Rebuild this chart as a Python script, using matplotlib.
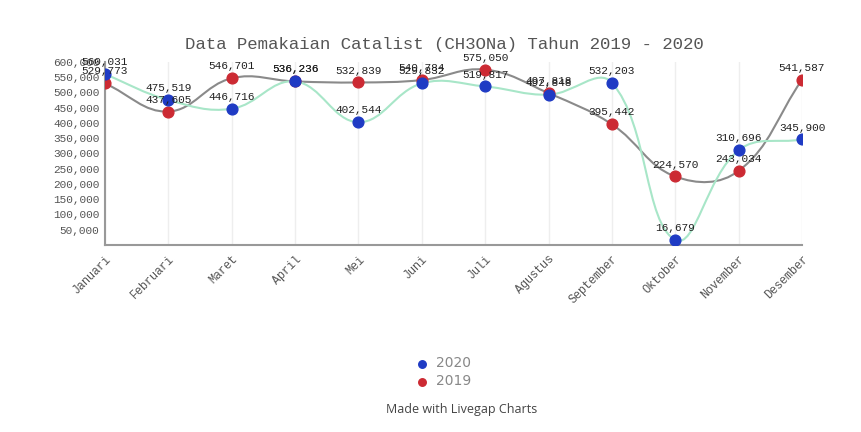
import numpy as np
import matplotlib
matplotlib.use("Agg")
import matplotlib.pyplot as plt
from matplotlib.path import Path
from matplotlib.patches import PathPatch

bulan = ["Januari", "Februari", "Maret", "April", "Mei", "Juni", "Juli",
         "Agustus", "September", "Oktober", "November", "Desember"]
data_2020 = [560031, 475519, 446716, 536236, 402544, 529832, 519817,
             492848, 532203, 16679, 310696, 345900]
data_2019 = [529773, 437605, 546701, 536236, 532839, 540784, 575050,
             497818, 395442, 224570, 243034, 541587]
y_ticks = list(range(50000, 600001, 50000))

warna_2020 = "#1f3bc4"
warna_2019 = "#cc2a33"
garis_2020 = "#a8e6c8"
garis_2019 = "#8a8a8a"
mono = "Liberation Mono"

fig = plt.figure(figsize=(8.62, 4.32), dpi=100)
ax = fig.add_axes([0.1218, 0.4329, 0.8086, 0.4236])
x = np.arange(len(bulan))
ax.set_xlim(0, len(bulan) - 1)
ax.set_ylim(0, 600000)


def kurva(ax, xs, ys, warna):
    # spline ala Chart.js (tension 0.4), dihitung di koordinat piksel
    pts = ax.transData.transform(np.column_stack([xs, ys]))
    t = 0.4
    n = len(pts)
    cp_prev = pts.copy()
    cp_next = pts.copy()
    for i in range(n):
        p0 = pts[max(i - 1, 0)]
        p1 = pts[i]
        p2 = pts[min(i + 1, n - 1)]
        d01 = np.hypot(*(p1 - p0))
        d12 = np.hypot(*(p2 - p1))
        tot = d01 + d12
        if tot == 0:
            continue
        fa = t * d01 / tot
        fb = t * d12 / tot
        cp_prev[i] = p1 - fa * (p2 - p0)
        cp_next[i] = p1 + fb * (p2 - p0)
    verts = [pts[0]]
    codes = [Path.MOVETO]
    for i in range(n - 1):
        verts += [cp_next[i], cp_prev[i + 1], pts[i + 1]]
        codes += [Path.CURVE4] * 3
    inv = ax.transData.inverted()
    verts = inv.transform(np.array(verts))
    ax.add_patch(PathPatch(Path(verts, codes), fill=False, edgecolor=warna,
                           lw=1.5, zorder=2))


kurva(ax, x, data_2019, garis_2019)
kurva(ax, x, data_2020, garis_2020)
ax.scatter(x, data_2019, s=60, color=warna_2019, zorder=3, label="2019")
ax.scatter(x, data_2020, s=60, color=warna_2020, zorder=4, label="2020")

for xi, v in zip(x, data_2019):
    ax.annotate(f"{v:,}", (xi, v), xytext=(0, 5), textcoords="offset points",
                ha="center", va="bottom", fontsize=8, family=mono,
                color="#222222", zorder=5, annotation_clip=False)
for xi, v in zip(x, data_2020):
    ax.annotate(f"{v:,}", (xi, v), xytext=(0, 5), textcoords="offset points",
                ha="center", va="bottom", fontsize=8, family=mono,
                color="#222222", zorder=5, annotation_clip=False)

ax.set_xticks(x)
ax.set_xticklabels(bulan, rotation=45, ha="right", rotation_mode="anchor",
                   family=mono, fontsize=8.5, color="#555555")
ax.set_yticks(y_ticks)
ax.set_yticklabels([f"{v:,}" for v in y_ticks], family=mono, fontsize=8,
                   color="#555555")
ax.tick_params(length=0, pad=4)
ax.tick_params(axis="x", pad=6)
ax.grid(axis="x", color="#eeeeee", lw=1)
ax.set_axisbelow(True)
for s in ["top", "right"]:
    ax.spines[s].set_visible(False)
for s in ["left", "bottom"]:
    ax.spines[s].set_color("#999999")
    ax.spines[s].set_linewidth(1.5)

fig.text(0.515, 0.897, "Data Pemakaian Catalist (CH3ONa) Tahun 2019 - 2020",
         ha="center", va="center", family=mono, fontsize=12.5, color="#555555")

handles, labels = ax.get_legend_handles_labels()
fig.legend(handles[::-1], labels[::-1], loc="center", bbox_to_anchor=(0.51, 0.138),
           frameon=False, handletextpad=0.0, markerscale=0.7, labelspacing=0.3,
           prop={"family": "DejaVu Sans", "size": 10}, labelcolor="#888888")
fig.text(0.535, 0.053, "Made with Livegap Charts", ha="center", va="center",
         family="Open Sans", fontsize=9, color="#444444")

fig.savefig("out.png", dpi=100)
